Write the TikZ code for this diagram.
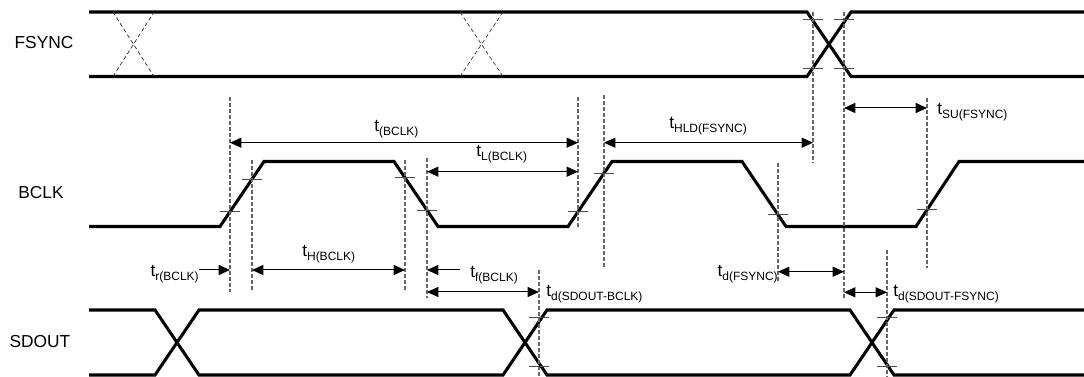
\documentclass[tikz,border=0pt]{standalone}
\usepackage{fontspec}
\setmainfont{Liberation Sans}
\usetikzlibrary{arrows.meta}
\newcommand{\tsub}[1]{t\raisebox{-2.6pt}{\fontsize{9}{9}\selectfont #1}}
\begin{document}
\begin{tikzpicture}[x=0.75pt,y=-0.75pt,
  sig/.style={line width=2.3pt, line join=miter},
  guide/.style={draw=black!60, line width=0.8pt, dash pattern=on 3pt off 1.5pt},
  xguide/.style={draw=black!85, line width=0.5pt, dash pattern=on 3pt off 2pt},
  tickmark/.style={draw=black!70, line width=0.7pt},
  dim/.style={line width=0.75pt, {Triangle[length=8.5pt,width=7.5pt]}-{Triangle[length=8.5pt,width=7.5pt]}},
  dimr/.style={line width=0.75pt, -{Triangle[length=8.5pt,width=7.5pt]}},
  signame/.style={font=\fontsize{13}{15}\selectfont, inner sep=0pt},
  lab/.style={font=\fontsize{13}{15}\selectfont, inner sep=0pt, anchor=base west},
]
\useasboundingbox (0,0) rectangle (1084,377);

% signal names
\node[signame] (nF) at (44,43) {FSYNC};
\node[signame] (nB) at (41,193) {BCLK};
\node[signame] (nS) at (40,342) {SDOUT};

% FSYNC
\draw[sig] (89,12) -- (807,12) -- (851,76.5) -- (1084,76.5);
\draw[sig] (89,76.5) -- (807,76.5) -- (851,12) -- (1084,12);
\draw[xguide] (113,12) -- (154,76.5) (113,76.5) -- (154,12);
\draw[xguide] (460,12) -- (503,76.5) (460,76.5) -- (503,12);

% BCLK
\draw[sig] (89,226.5) -- (220,226.5) -- (264,161.5) -- (394,161.5) -- (438,226.5)
  -- (568,226.5) -- (612,161.5) -- (742,161.5) -- (786,226.5) -- (916,226.5)
  -- (959,161.5) -- (1084,161.5);

% SDOUT
\draw[sig] (89,310) -- (155,310) -- (199,375) -- (503,375) -- (547,310) -- (850,310) -- (894,375) -- (1084,375);
\draw[sig] (89,375) -- (155,375) -- (199,310) -- (503,310) -- (547,375) -- (850,375) -- (894,310) -- (1084,310);

% guide coordinates
\coordinate (g1t) at (230,97);  \coordinate (g1b) at (230,292);
\coordinate (g2t) at (252,160); \coordinate (g2b) at (252,292);
\coordinate (g3t) at (405,160); \coordinate (g3b) at (405,292);
\coordinate (g4t) at (427,158); \coordinate (g4b) at (427,298);
\coordinate (g5t) at (578,97);  \coordinate (g5b) at (578,227);
\coordinate (g6t) at (604,95);  \coordinate (g6b) at (604,268);
\coordinate (g7t) at (778,163); \coordinate (g7b) at (778,282);
\coordinate (g8t) at (813,12);  \coordinate (g8b) at (813,163);
\coordinate (g9t) at (844,12);  \coordinate (g9b) at (844,300);
\coordinate (g10t) at (927,98); \coordinate (g10b) at (927,268);
\coordinate (g11t) at (539,270); \coordinate (g11b) at (539,377);
\coordinate (g12t) at (887,250); \coordinate (g12b) at (887,377);
\foreach \g in {1,...,12}{\draw[guide] (g\g t) -- (g\g b);}

% threshold ticks
\foreach \x/\y in {230/211.7, 252/179.2, 405/177.8, 427/210.2, 578/211.7, 604/173.3,
                   778/214.7, 927/209.9, 813/19, 813/68, 844/19, 844/68,
                   539/317, 539/366, 887/317, 887/366}
  {\draw[tickmark] (\x-10,\y) -- (\x+10,\y);}

% labels
\node[lab] (lBCLK) at (374,132) {\tsub{(BCLK)}};
\node[lab] (lL) at (476,157) {\tsub{L(BCLK)}};
\node[lab] (lHLD) at (669,129) {\tsub{HLD(FSYNC)}};
\node[lab] (lSU) at (937,115) {\tsub{SU(FSYNC)}};
\node[lab] (lH) at (302,257) {\tsub{H(BCLK)}};
\node[lab, anchor=base east] (lr) at (199,277) {\tsub{r(BCLK)}};
\node[lab] (lf) at (470,278) {\tsub{f(BCLK)}};
\node[lab] (lSB) at (546,297) {\tsub{d(SDOUT-BCLK)}};
\node[lab, anchor=base east] (lFS) at (778,277) {\tsub{d(FSYNC)}};
\node[lab] (lSF) at (893,297) {\tsub{d(SDOUT-FSYNC)}};

% arrow end points
\coordinate (aB1) at (230,142.7); \coordinate (aB2) at (578,142.7);
\coordinate (aL1) at (427,171.7); \coordinate (aL2) at (578,171.7);
\coordinate (aHd1) at (604,142.7); \coordinate (aHd2) at (813,142.7);
\coordinate (aSU1) at (844,108); \coordinate (aSU2) at (927,108);
\coordinate (aH1) at (252,270); \coordinate (aH2) at (405,270);
\coordinate (ar1) at (199,270); \coordinate (ar2) at (230,270);
\coordinate (af1) at (460,270); \coordinate (af2) at (427,270);
\coordinate (aSB1) at (427,292); \coordinate (aSB2) at (539,292);
\coordinate (aFS1) at (778,271.7); \coordinate (aFS2) at (844,271.7);
\coordinate (aSF1) at (844,292.3); \coordinate (aSF2) at (887,292.3);

\draw[dim] (aB1) -- (aB2);
\draw[dim] (aL1) -- (aL2);
\draw[dim] (aHd1) -- (aHd2);
\draw[dim] (aSU1) -- (aSU2);
\draw[dim] (aH1) -- (aH2);
\draw[dimr] (ar1) -- (ar2);
\draw[dimr] (af1) -- (af2);
\draw[dim] (aSB1) -- (aSB2);
\draw[dim] (aFS1) -- (aFS2);
\draw[dim] (aSF1) -- (aSF2);
\end{tikzpicture}
\end{document}
